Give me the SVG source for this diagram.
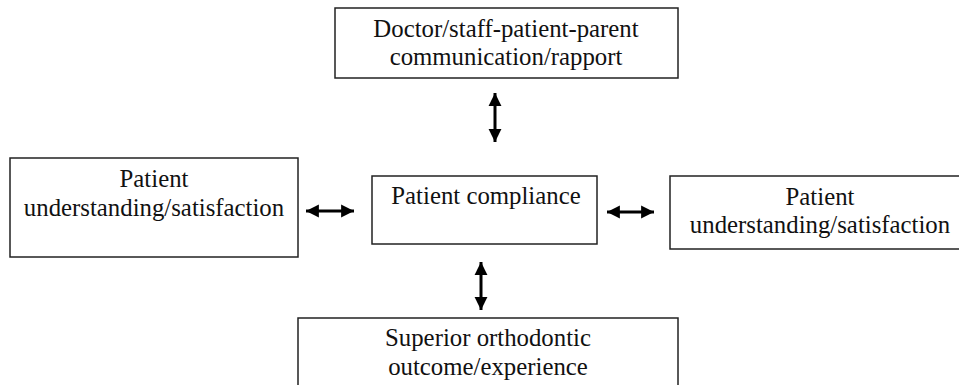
<svg xmlns="http://www.w3.org/2000/svg" width="959" height="385" viewBox="0 0 959 385">
<style>
  .box { fill: #ffffff; stroke: #222222; stroke-width: 1.5; }
  .lbl { font-family: "Liberation Serif", "Times New Roman", serif; font-size: 24.8px; fill: #111111; text-anchor: middle; }
  .conn { stroke: #000000; stroke-width: 3; fill: none; marker-start: url(#ah); marker-end: url(#ah); }
</style>
<defs>
  <marker id="ah" viewBox="0 0 10 10" refX="10" refY="5" markerWidth="4.3" markerHeight="4.6" orient="auto-start-reverse" markerUnits="strokeWidth">
    <path d="M0,0 L10,5 L0,10 z" fill="#000000"/>
  </marker>
</defs>
<rect width="959" height="385" fill="#ffffff"/>
<g id="connectors">
  <line class="conn" x1="495" y1="93" x2="495" y2="142"/>
  <line class="conn" x1="306" y1="211" x2="354" y2="211"/>
  <line class="conn" x1="607" y1="212" x2="654" y2="212"/>
  <line class="conn" x1="481" y1="262" x2="481" y2="310"/>
</g>
<g id="node-top">
  <rect class="box" x="335" y="8" width="343" height="70"/>
  <text class="lbl" x="506" y="37">Doctor/staff-patient-parent</text>
  <text class="lbl" x="506" y="65">communication/rapport</text>
</g>
<g id="node-left">
  <rect class="box" x="10" y="158" width="288" height="99"/>
  <text class="lbl" x="154" y="187">Patient</text>
  <text class="lbl" x="154" y="216">understanding/satisfaction</text>
</g>
<g id="node-center">
  <rect class="box" x="372" y="176" width="225" height="68"/>
  <text class="lbl" x="486" y="204">Patient compliance</text>
</g>
<g id="node-right">
  <rect class="box" x="670" y="176" width="300" height="73"/>
  <text class="lbl" x="820" y="205">Patient</text>
  <text class="lbl" x="820" y="233">understanding/satisfaction</text>
</g>
<g id="node-bottom">
  <rect class="box" x="298" y="318" width="380" height="80"/>
  <text class="lbl" x="488" y="346">Superior orthodontic</text>
  <text class="lbl" x="488" y="375">outcome/experience</text>
</g>
</svg>
